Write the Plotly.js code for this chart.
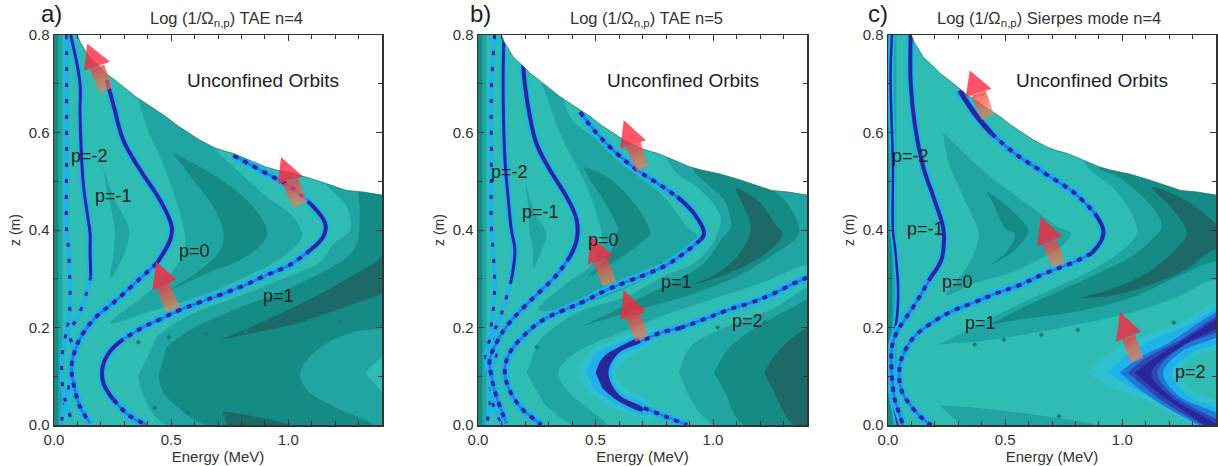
<!DOCTYPE html>
<html><head><meta charset="utf-8">
<script src="https://cdn.plot.ly/plotly-3.0.1.min.js"></script>
<style>html,body{margin:0;padding:0;background:#fff}#g{width:1218px;height:466px}</style>
</head><body><div id="g"></div>
<script>
// Shared orbit-loss boundary [E (MeV), z (m)]
const boundary=[[.10,.80],[.112,.785],[.125,.775],[.15,.755],[.197,.734],[.225,.72],[.254,.71],[.28,.70],[.31,.69],[.345,.675],[.382,.663],[.43,.648],[.48,.632],[.525,.615],[.567,.601],[.62,.585],[.68,.57],[.72,.563],[.766,.557],[.81,.548],[.852,.54],[.90,.53],[.95,.523],[1.03,.515],[1.12,.502],[1.19,.49],[1.25,.481],[1.32,.478],[1.40,.471],[1.42,.47]];

// ---- Panel a contour bands
const aL1Center=[[.33,.70],[.36,.666],[.396,.611],[.453,.55],[.50,.49],[.553,.406],[.56,.366],[.51,.318],[.396,.27],[.24,.209],[.41,.233],[.624,.264],[.823,.305],[.98,.346],[1.058,.387],[1.02,.427],[.909,.468],[.766,.53],[.68,.57],[.62,.62],[.50,.70]];
const aL2Center=[[.51,.557],[.695,.509],[.838,.454],[.909,.40],[.895,.376],[.795,.339],[.652,.311],[.503,.279],[.624,.318],[.71,.359],[.724,.393],[.68,.447],[.595,.502]];
const aL1Left=[[.21,.529],[.26,.461],[.318,.406],[.318,.38],[.296,.346],[.24,.30],[.254,.352],[.26,.393],[.254,.42],[.225,.48]];
const aL1Right=[[.36,.10],[.382,.059],[.48,0],[1.45,0],[1.45,.60],[1.10,.60],[1.137,.509],[1.25,.447],[1.265,.40],[1.194,.373],[1.137,.335],[.98,.301],[.766,.26],[.567,.223],[.439,.182]];
const aL2Right=[[.446,.10],[.467,.066],[.524,.038],[.652,0],[1.358,0],[1.194,.038],[1.08,.072],[1.051,.107],[1.123,.154],[1.265,.189],[1.45,.216],[1.45,.60],[1.30,.60],[1.30,.478],[1.305,.427],[1.279,.359],[1.051,.291],[.766,.236],[.581,.195],[.481,.161]];
const aL0Nose=[[1.329,.107],[1.403,.14],[1.45,.15],[1.45,.06],[1.403,.066]];
const aL3Upper=[[.71,.175],[.909,.216],[1.194,.284],[1.403,.346],[1.45,.37],[1.45,.28],[1.403,.27],[1.023,.206]];
const aL3Lower=[[.717,.028],[.852,.018],[1.0,0],[.738,0]];
// ---- Panel a resonances
const aP1Top=[[.766,.553],[.895,.519],[1.01,.488],[1.094,.454]];
const aP1Nose=[[1.094,.454],[1.158,.413],[1.15,.387],[1.094,.359]];
const aP1Mid=[[1.094,.359],[1.008,.329],[.895,.305],[.81,.286],[.709,.267],[.624,.252],[.538,.236],[.453,.217],[.382,.201],[.296,.176]];
const aP1Low=[[.296,.176],[.239,.151],[.208,.12],[.211,.086],[.254,.052]];
const aP1End=[[.254,.052],[.325,.018],[.396,.001]];
const aP0Up=[[.225,.707],[.254,.656],[.296,.584],[.368,.523],[.453,.461],[.503,.406],[.496,.38],[.439,.332]];
const aP0Down=[[.439,.332],[.353,.294],[.254,.251],[.182,.223],[.125,.189],[.09,.154],[.075,.12],[.083,.086],[.111,.038],[.154,.004]];
const aPm1Up=[[.071,.80],[.111,.70],[.111,.639],[.125,.495],[.142,.434],[.154,.393],[.154,.359],[.157,.305]];
const aPm1Down=[[.157,.305],[.125,.25],[.09,.212],[.06,.195],[.04,.161],[.033,.107],[.047,.052],[.075,.011]];
const aPm2=[[.054,.80],[.054,.666],[.054,.563],[.054,.40],[.06,.373],[.068,.29],[.068,.243],[.06,.195],[.083,.154],[.075,.12],[.06,.07],[.04,.03],[.03,0]];

// ---- Panel b contour bands
const bL1Center=[[.27,.70],[.299,.666],[.349,.598],[.463,.488],[.52,.406],[.527,.373],[.477,.325],[.377,.291],[.256,.236],[.377,.24],[.563,.267],[.734,.305],[.862,.342],[.933,.387],[.89,.406],[.805,.461],[.705,.502],[.591,.543],[.506,.584],[.392,.632],[.35,.70]];
const bL2Center=[[.449,.529],[.548,.509],[.677,.447],[.734,.393],[.726,.387],[.634,.352],[.548,.325],[.47,.305],[.563,.352],[.591,.393],[.598,.40],[.534,.461],[.477,.502]];
const bL1Left=[[.199,.505],[.242,.434],[.292,.393],[.271,.359],[.235,.322],[.235,.359],[.221,.393],[.214,.447]];
const bL1Big=[[.207,.107],[.249,.161],[.264,.175],[.42,.23],[.634,.264],[.79,.305],[.919,.332],[.99,.366],[1.019,.393],[1.033,.427],[.947,.482],[.833,.523],[.78,.60],[1.45,.60],[1.45,.325],[1.406,.329],[1.204,.291],[.99,.257],[.819,.23],[.634,.195],[.463,.161],[.377,.134],[.342,.107],[.377,.072],[.477,.031],[.548,0],[.406,0],[.278,.045]];
const bL2Mid=[[.436,.202],[.563,.23],[.705,.264],[.848,.298],[.962,.332],[1.033,.38],[1.075,.406],[1.047,.461],[.962,.50],[.919,.522],[.95,.60],[1.20,.60],[1.218,.502],[1.318,.454],[1.368,.40],[1.346,.38],[1.246,.346],[1.104,.305],[.919,.27],[.705,.24],[.534,.216]];
const bL3Mid=[[.89,.284],[1.018,.311],[1.104,.346],[1.147,.38],[1.161,.406],[1.13,.45],[1.097,.485],[1.189,.461],[1.275,.406],[1.296,.393],[1.26,.366],[1.132,.325],[.99,.298]];
const bL1Br=[[.855,.107],[.905,.161],[1.061,.202],[1.246,.236],[1.45,.285],[1.45,0],[1.004,0],[.89,.066]];
const bL2Br=[[1.004,.107],[1.061,.154],[1.189,.202],[1.318,.236],[1.45,.26],[1.45,0],[1.132,0],[1.061,.059]];
const bL3Br=[[1.218,.107],[1.26,.141],[1.346,.182],[1.45,.205],[1.45,0],[1.346,0],[1.275,.052]];
// ---- Panel b p=2 crescents
const bCyan=[[.42,.107],[.47,.15],[.60,.178],[.75,.20],[.75,.175],[.62,.13],[.585,.107],[.62,.08],[.75,.04],[.75,.015],[.60,.03],[.47,.065]];
const bSky=[[.46,.107],[.50,.145],[.60,.168],[.72,.19],[.72,.17],[.60,.14],[.57,.107],[.60,.07],[.72,.04],[.72,.02],[.60,.04],[.50,.07]];
const bDeep=[[.50,.107],[.53,.138],[.60,.16],[.70,.18],[.70,.172],[.60,.148],[.555,.107],[.60,.062],[.70,.036],[.70,.028],[.60,.048],[.53,.075]];
// ---- Panel b resonances
const bP2a=[[1.43,.32],[1.406,.305],[1.346,.291],[1.246,.267],[1.161,.251],[1.075,.238],[.962,.217],[.862,.199]];
const bP2b=[[.862,.199],[.776,.189],[.691,.171]];
const bP2c=[[.705,.035],[.805,.016],[.89,0]];
const bP1a=[[.434,.642],[.506,.598],[.591,.557],[.677,.523],[.776,.492],[.848,.468]];
const bP1b=[[.848,.468],[.919,.434],[.962,.393],[.947,.38]];
const bP1c=[[.947,.38],[.876,.352],[.805,.329],[.719,.31],[.634,.294],[.548,.277],[.449,.253],[.363,.235],[.278,.216],[.192,.182],[.135,.148],[.114,.113],[.128,.079],[.178,.038],[.249,.008],[.27,0]];
const bP0a=[[.192,.741],[.199,.70],[.221,.632],[.249,.577],[.306,.523],[.377,.468],[.42,.42],[.42,.38],[.392,.346]];
const bP0b=[[.392,.346],[.335,.308],[.271,.277],[.192,.24],[.121,.202],[.078,.168],[.05,.134],[.057,.10],[.078,.059],[.121,.004]];
const bPm1a=[[.11,.796],[.107,.70],[.114,.55],[.128,.468],[.142,.40],[.157,.359],[.142,.298]];
const bPm1b=[[.142,.298],[.114,.25],[.085,.209],[.05,.175],[.033,.134],[.05,.093],[.071,.031],[.107,0]];
const bPm2=[[.071,.80],[.057,.687],[.057,.563],[.057,.406],[.064,.359],[.071,.291],[.064,.23],[.057,.195],[.081,.161],[.057,.107],[.05,.038],[.036,0]];

// ---- Panel c contour bands
const cL1Center=[[.235,.601],[.256,.543],[.328,.461],[.385,.40],[.385,.38],[.34,.325],[.249,.267],[.37,.291],[.513,.311],[.67,.346],[.755,.373],[.783,.393],[.726,.406],[.613,.447],[.456,.502],[.342,.55]];
const cL2Center=[[.42,.48],[.513,.447],[.598,.40],[.591,.387],[.541,.359],[.442,.329],[.513,.359],[.541,.393],[.506,.40],[.456,.447]];
const cL1Big=[[.214,.165],[.37,.202],[.556,.247],[.726,.284],[.897,.325],[1.011,.363],[1.061,.393],[1.054,.42],[.969,.482],[.84,.536],[.80,.60],[1.45,.60],[1.45,.28],[1.399,.298],[1.239,.264],[1.054,.233],[.84,.209],[.627,.189],[.385,.171]];
const cL2Big=[[.434,.206],[.584,.243],[.741,.277],[.883,.308],[1.04,.346],[1.125,.38],[1.168,.406],[1.14,.44],[.983,.509],[.897,.529],[.90,.60],[1.45,.60],[1.45,.32],[1.399,.335],[1.239,.305],[1.054,.264],[.84,.236],[.598,.219]];
const cL3Big=[[.812,.26],[.983,.284],[1.125,.318],[1.239,.366],[1.275,.393],[1.22,.44],[1.125,.488],[1.268,.461],[1.399,.413],[1.45,.39],[1.45,.34],[1.399,.359],[1.268,.318],[1.054,.277],[.94,.264]];
const cL1Low=[[.221,.04],[.385,.035],[.627,.021],[.883,0],[.313,0]];
// ---- Panel c p=2 crescents
const cCyan=[[.848,.107],[.912,.137],[1.054,.175],[1.239,.209],[1.45,.255],[1.45,.165],[1.30,.14],[1.246,.107],[1.30,.07],[1.45,.035],[1.45,-.05],[1.296,0],[1.125,.045],[.954,.076]];
const cSky=[[.94,.107],[1.011,.141],[1.125,.175],[1.268,.202],[1.45,.245],[1.45,.18],[1.30,.148],[1.211,.107],[1.28,.06],[1.45,.02],[1.45,-.03],[1.368,0],[1.197,.04],[1.04,.076]];
const cBlue=[[.99,.107],[1.068,.137],[1.182,.164],[1.45,.238],[1.45,.195],[1.25,.15],[1.174,.107],[1.24,.06],[1.45,.01],[1.45,-.02],[1.211,.03],[1.068,.075]];
const cDeep=[[1.026,.107],[1.09,.134],[1.25,.175],[1.45,.232],[1.45,.205],[1.25,.16],[1.15,.107],[1.22,.06],[1.45,-.005],[1.45,-.02],[1.2,.04],[1.09,.08]];
const cNavy=[[1.054,.107],[1.125,.133],[1.268,.176],[1.45,.226],[1.45,.213],[1.268,.165],[1.125,.107],[1.2,.06],[1.45,-.015],[1.45,-.025],[1.2,.05],[1.12,.078]];
// ---- Panel c resonances
const cP1a=[[.306,.686],[.37,.639],[.442,.598]];
const cP1b=[[.442,.598],[.541,.557],[.67,.516],[.798,.475],[.883,.434]];
const cP1c=[[.883,.434],[.919,.40],[.912,.38],[.869,.352]];
const cP1d=[[.869,.352],[.783,.332],[.67,.311],[.556,.286],[.456,.269],[.37,.252],[.271,.233],[.185,.209],[.114,.182],[.071,.151],[.05,.12],[.057,.072],[.1,.038],[.157,.009],[.185,0]];
const cP0a=[[.097,.80],[.097,.70],[.114,.618],[.15,.53],[.199,.461],[.235,.406],[.239,.38],[.228,.339],[.185,.305]];
const cP0b=[[.185,.305],[.114,.247],[.071,.216],[.036,.189],[.017,.161],[.014,.134],[.026,.059],[.043,.031],[.064,0]];
const cPm1=[[.017,.80],[.011,.714],[.021,.53],[.021,.40],[.031,.359],[.043,.284],[.04,.23],[.028,.189],[.014,.134],[.007,.093],[.026,.038],[.043,0]];

// ---- Arrows: head [tip,right,left], shaft [topL,topR,baseR,baseL]
const aArrowHeads=[[[.142,.782],[.239,.745],[.128,.727]],[[.969,.55],[1.063,.51],[.956,.494]],[[.436,.335],[.524,.298],[.42,.277]]];
const aArrowShafts=[[[.154,.731],[.214,.739],[.251,.692],[.194,.681]],[[.977,.495],[1.041,.505],[1.08,.458],[1.02,.446]],[[.439,.281],[.491,.291],[.538,.242],[.477,.232]]];
const bArrowHeads=[[[.62,.625],[.715,.584],[.605,.567]],[[.481,.387],[.577,.346],[.467,.329]],[[.62,.277],[.717,.233],[.605,.216]]];
const bArrowShafts=[[[.63,.57],[.691,.581],[.724,.531],[.674,.521]],[[.491,.332],[.551,.342],[.588,.294],[.531,.284]],[[.631,.219],[.691,.23],[.724,.182],[.67,.171]]];
const cArrowHeads=[[[.349,.727],[.442,.69],[.332,.673]],[[.651,.427],[.744,.387],[.637,.366]],[[.99,.232],[1.08,.192],[.973,.171]]];
const cArrowShafts=[[[.356,.676],[.417,.685],[.453,.637],[.399,.626]],[[.662,.369],[.719,.38],[.755,.332],[.701,.324]],[[1.0,.175],[1.054,.185],[1.09,.137],[1.036,.127]]];

// ---- Text
const aLabels=[["p=-2",.15,.551],["p=-1",.252,.469],["p=0",.598,.357],["p=1",.957,.264]];
const bLabels=[["p=-2",.136,.518],["p=-1",.264,.436],["p=0",.536,.379],["p=1",.843,.293],["p=2",1.145,.213]];
const cLabels=[["p=-2",.098,.551],["p=-1",.162,.402],["p=0",.295,.293],["p=1",.393,.209],["p=2",1.291,.109]];
const panelTitles=["Log (1/Ω<sub>n,p</sub>) TAE n=4","Log (1/Ω<sub>n,p</sub>) TAE n=5","Log (1/Ω<sub>n,p</sub>) Sierpes mode n=4"];
const panelLetters=["a)","b)","c)"];
const regionLabel="Unconfined Orbits";
const regionE=[.893,.872,.872], regionZ=.707;
// small contour artefacts
const aSpecks=[[.36,.17],[.49,.18],[.65,.187],[.82,.19],[1.22,.21],[.43,.035],[.57,.025],[.73,.018]];
const bSpecks=[[.25,.16],[.82,.195],[1.02,.20],[1.22,.21],[.78,.33]];
const cSpecks=[[.37,.165],[.495,.175],[.655,.185],[.81,.195],[1.22,.21],[.73,.018]];

const L0='#2fbcb3',L1='#20a5a3',L2='#158b85',L3='#1c6967';
const SKY='#1fb2ea',MID='#1e7fe0',NAVY='#27279c',DEEP='#2f45b5';
const traces=[];
function xs(p){return p.map(d=>d[0]);} function ys(p){return p.map(d=>d[1]);}
function poly(ax,p,col,spline){
  traces.push({type:'scatter',mode:'lines',x:xs(p),y:ys(p),xaxis:'x'+ax,yaxis:'y'+ax,fill:'toself',fillcolor:col,
    line:{width:0,color:col,shape:spline===false?'linear':'spline',smoothing:1},hoverinfo:'skip',showlegend:false});
}
function ln(ax,p,col,w,dash){
  traces.push({type:'scatter',mode:'lines',x:xs(p),y:ys(p),xaxis:'x'+ax,yaxis:'y'+ax,
    line:{color:col,width:w,shape:'spline',smoothing:1.1,dash:dash||'solid'},hoverinfo:'skip',showlegend:false});
}
function solid(ax,p,w){ln(ax,p,SKY,(w||4)+4);ln(ax,p,NAVY,w||4);}
function dots(ax,p){ln(ax,p,SKY,8);ln(ax,p,MID,2.5);ln(ax,p,NAVY,4,'5px,6px');}
function thin(ax,p){ln(ax,p,SKY,4.5);ln(ax,p,NAVY,3,'4px,12px');}
function base(ax){
  poly(ax,[[0,0],[1.45,0],[1.45,.85],[0,.85]],L0,false);
  poly(ax,[[0,0],[.036,0],[.036,.85],[0,.85]],L1,false);
  poly(ax,[[0,0],[.018,0],[.018,.85],[0,.85]],L2,false);
}
function ln2(ax,p){traces.push({type:'scatter',mode:'lines',x:xs(p),y:ys(p),xaxis:'x'+ax,yaxis:'y'+ax,line:{color:'#1b6f6b',width:.7},hoverinfo:'skip',showlegend:false});}
function mask(ax){
  poly(ax,boundary.concat([[1.45,.47],[1.45,.85],[.10,.85]]),'#ffffff',false);
  ln2(ax,boundary);
}
function specks(ax,p){traces.push({type:'scatter',mode:'markers',x:xs(p),y:ys(p),xaxis:'x'+ax,yaxis:'y'+ax,marker:{symbol:'diamond',size:4,color:'#1a7d78'},hoverinfo:'skip',showlegend:false});}
function arrows(ax,heads,shafts){
  const n=6;
  const c0=[255,50,60,.78],c1=[255,130,70,.6];
  shafts.forEach((s,i)=>{
    for(let k=0;k<n;k++){
      const t0=k/n,t1=(k+1)/n,mix=(a,b,t)=>[a[0]+(b[0]-a[0])*t,a[1]+(b[1]-a[1])*t];
      const q=[mix(s[0],s[3],t0),mix(s[1],s[2],t0),mix(s[1],s[2],t1),mix(s[0],s[3],t1)];
      const t=(k+.5)/n,c=c0.map((v,j)=>j<3?Math.round(v+(c1[j]-v)*t):v+(c1[j]-v)*t);
      poly(ax,q,`rgba(${c[0]},${c[1]},${c[2]},${c[3].toFixed(2)})`,false);
    }
    poly(ax,heads[i],'rgba(255,35,60,.78)',false);
  });
}
// Panel a
base('');
poly('',aL1Right,L1);poly('',aL1Center,L1);poly('',aL1Left,L1);
poly('',aL2Right,L2);poly('',aL2Center,L2);
poly('',aL0Nose,L0);
poly('',aL3Upper,L3);poly('',aL3Lower,L3);
specks('',aSpecks);
thin('',aPm2);solid('',aPm1Up,3);thin('',aPm1Down);
solid('',aP0Up);dots('',aP0Down);
dots('',aP1Top);solid('',aP1Nose);dots('',aP1Mid);solid('',aP1Low);dots('',aP1End);
mask('');arrows('',aArrowHeads,aArrowShafts);
// Panel b
base('2');
poly('2',bL1Big,L1);poly('2',bL1Center,L1);poly('2',bL1Left,L1);poly('2',bL1Br,L1);
poly('2',bL2Mid,L2);poly('2',bL2Center,L2);poly('2',bL2Br,L2);
poly('2',bL3Mid,L3);poly('2',bL3Br,L3);
specks('2',bSpecks);
thin('2',bPm2);solid('2',bPm1a,3);thin('2',bPm1b);
solid('2',bP0a);dots('2',bP0b);
dots('2',bP1a);solid('2',bP1b);dots('2',bP1c);
poly('2',bCyan,'#2fc0cd');poly('2',bSky,SKY);poly('2',bDeep,NAVY);
dots('2',bP2a);dots('2',bP2b);dots('2',bP2c);
mask('2');arrows('2',bArrowHeads,bArrowShafts);
// Panel c
base('3');
poly('3',cL1Big,L1);poly('3',cL1Center,L1);poly('3',cL1Low,L1);
poly('3',cL2Big,L2);poly('3',cL2Center,L2);poly('3',cL3Big,L3);
specks('3',cSpecks);
solid('3',cPm1,2.5);solid('3',cP0a);dots('3',cP0b);
solid('3',cP1a,5);dots('3',cP1b);solid('3',cP1c);dots('3',cP1d);
poly('3',cCyan,'#2fc0cd');poly('3',cSky,SKY);poly('3',cBlue,'#1f78d8');poly('3',cDeep,DEEP);poly('3',cNavy,NAVY);
mask('3');arrows('3',cArrowHeads,cArrowShafts);

const W=1218,H=466;
const xDom=[[54,382],[478,807],[888,1216]];
const yDom=[(H-425)/H,(H-35)/H];
const FAM='Liberation Sans, Arial, sans-serif';
const tickFont={family:FAM,size:15,color:'#333'};
function xax(i,anchor){return {domain:[xDom[i][0]/W,xDom[i][1]/W],range:[0,1.4],anchor:anchor,tickvals:[0,.5,1],ticktext:['0.0','0.5','1.0'],ticks:'inside',ticklen:6,tickwidth:1,tickcolor:'#333',
  minor:{tickvals:[.1,.2,.3,.4,.6,.7,.8,.9,1.1,1.2,1.3],ticks:'inside',ticklen:4,tickcolor:'#333',tickwidth:1},
  showline:true,linecolor:'#333',linewidth:1.5,mirror:'ticks',showgrid:false,zeroline:false,tickfont:tickFont,
  title:{text:'Energy (MeV)',font:{family:FAM,size:15,color:'#333'},standoff:2},layer:'above traces'};}
function yax(i,anchor){return {domain:yDom,range:[0,.8],anchor:anchor,tickvals:[0,.2,.4,.6,.8],ticktext:['0.0','0.2','0.4','0.6','0.8'],ticks:'inside',ticklen:6,tickwidth:1,tickcolor:'#333',
  minor:{tickvals:[.1,.3,.5,.7],ticks:'inside',ticklen:4,tickcolor:'#333',tickwidth:1},
  showline:true,linecolor:'#333',linewidth:1.5,mirror:'ticks',showgrid:false,zeroline:false,tickfont:tickFont,
  title:{text:'z (m)',font:{family:FAM,size:14,color:'#333'},standoff:4},layer:'above traces'};}
const annotations=[];
const font=(s,c)=>({family:FAM,size:s,color:c||'#222'});
[aLabels,bLabels,cLabels].forEach((L,i)=>{
  const s=i===0?'':String(i+1);
  L.forEach(d=>annotations.push({text:d[0],x:d[1],y:d[2],xref:'x'+s,yref:'y'+s,xanchor:'center',yanchor:'middle',showarrow:false,font:font(18)}));
  annotations.push({text:regionLabel,x:regionE[i],y:regionZ,xref:'x'+s,yref:'y'+s,xanchor:'center',yanchor:'middle',showarrow:false,font:font(19)});
});
const titleX=[226,646,1049],letterX=[51,480,878];
panelTitles.forEach((t,i)=>{
  annotations.push({text:t,x:titleX[i]/W,y:(H-19)/H,xref:'paper',yref:'paper',xanchor:'center',yanchor:'middle',showarrow:false,font:font(16.5,'#333')});
  annotations.push({text:panelLetters[i],x:letterX[i]/W,y:(H-13)/H,xref:'paper',yref:'paper',xanchor:'center',yanchor:'middle',showarrow:false,font:font(24,'#222')});
});
Plotly.newPlot('g',traces,{width:W,height:H,margin:{l:0,r:0,t:0,b:0},paper_bgcolor:'#fff',plot_bgcolor:'#fff',showlegend:false,
  xaxis:xax(0,'y'),yaxis:yax(0,'x'),xaxis2:xax(1,'y2'),yaxis2:yax(1,'x2'),xaxis3:xax(2,'y3'),yaxis3:yax(2,'x3'),annotations:annotations},{displayModeBar:false,staticPlot:true});
</script></body></html>
